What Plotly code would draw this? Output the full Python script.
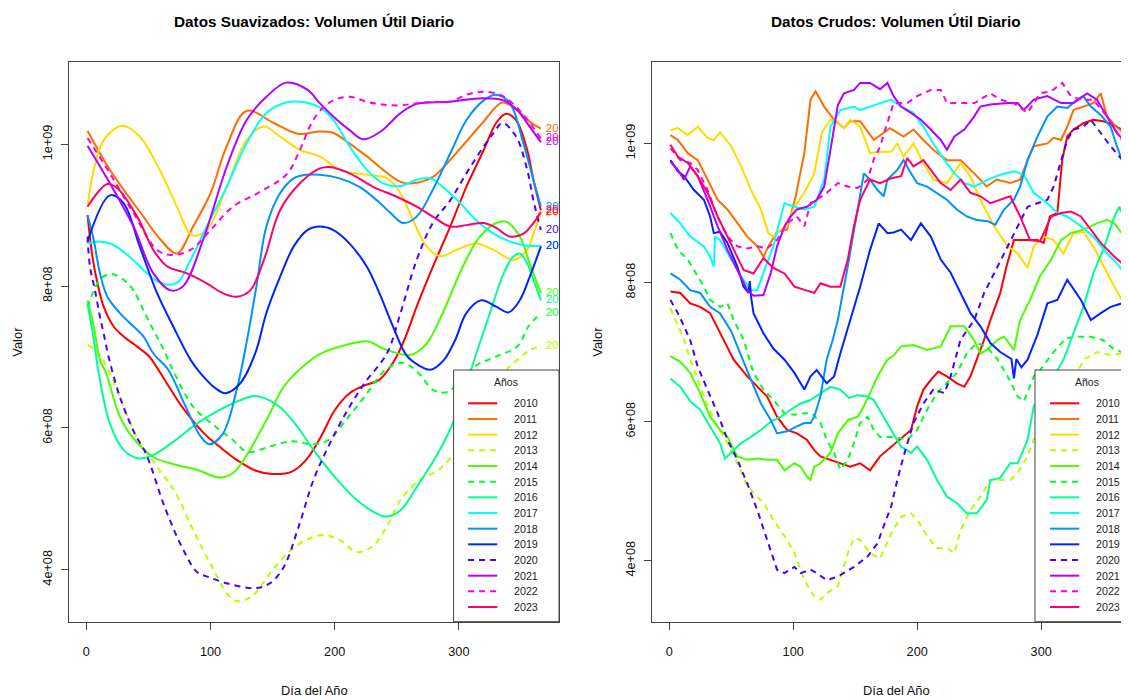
import plotly.graph_objects as go

# The page body has an 8px margin, so the figure is drawn 8px lower/right;
# the canvas is sized so that it ends exactly at the window edge.
OFF = 8
W, H = 1129 - OFF, 700 - OFF

YEARS = [2010, 2011, 2012, 2013, 2014, 2015, 2016, 2017, 2018, 2019, 2020, 2021, 2022, 2023]
COLORS = ["#FF0000", "#FF6D00", "#FFDB00", "#B6FF00", "#49FF00", "#00FF24", "#00FF92",
          "#00FFFF", "#0092FF", "#0024FF", "#4900FF", "#B600FF", "#FF00DB", "#FF006D"]
DASHED_YEARS = [2013, 2015, 2020, 2022]

X_TICKS = [0, 100, 200, 300]
Y_TICKS = [4, 6, 8, 10]          # in units of 1e8
Y_TICK_TEXT = ["4e+08", "6e+08", "8e+08", "1e+09"]

# ---------------- Smoothed data (day of year, value in 1e8 units) ----------------
S2010_D = [1, 5, 9, 14, 22, 30, 43, 51, 63, 77, 95, 107, 121, 136, 150, 165, 177, 189, 200, 212, 224, 236, 248, 256, 266, 279, 293, 306, 320, 330, 338, 346, 355, 360, 366]
S2010_V = [9.0, 8.41, 8.04, 7.71, 7.43, 7.29, 7.12, 7.0, 6.68, 6.30, 5.92, 5.74, 5.55, 5.40, 5.35, 5.38, 5.55, 5.88, 6.25, 6.49, 6.60, 6.68, 6.95, 7.24, 7.71, 8.27, 8.84, 9.40, 9.92, 10.30, 10.43, 10.34, 9.92, 9.50, 9.07]
S2011_D = [1, 19, 46, 60, 73, 86, 100, 113, 129, 151, 170, 188, 199, 212, 226, 239, 253, 263, 279, 293, 306, 319, 335, 347, 357, 366]
S2011_V = [10.19, 9.64, 8.98, 8.65, 8.46, 8.84, 9.31, 9.97, 10.47, 10.30, 10.15, 10.18, 10.16, 10.01, 9.83, 9.64, 9.47, 9.45, 9.54, 9.78, 10.04, 10.30, 10.59, 10.48, 10.32, 10.22]
S2012_D = [1, 6, 14, 29, 43, 59, 73, 85, 97, 113, 129, 143, 156, 172, 188, 204, 226, 242, 253, 263, 274, 285, 298, 314, 328, 344, 355, 360, 366]
S2012_V = [9.12, 9.64, 10.06, 10.26, 10.11, 9.64, 9.12, 8.72, 8.79, 9.40, 10.06, 10.25, 10.11, 9.92, 9.83, 9.64, 9.57, 9.52, 9.31, 8.93, 8.56, 8.42, 8.51, 8.60, 8.51, 8.37, 8.51, 8.74, 9.03]
S2013_D = [1, 10, 19, 30, 42, 57, 72, 86, 101, 113, 121, 133, 148, 162, 177, 192, 204, 218, 230, 242, 253, 268, 283, 294, 310, 325, 340, 350, 357, 366]
S2013_V = [7.17, 7.05, 6.77, 6.30, 5.83, 5.45, 5.08, 4.56, 4.05, 3.67, 3.56, 3.62, 3.95, 4.23, 4.42, 4.49, 4.42, 4.25, 4.32, 4.61, 4.98, 5.26, 5.40, 5.59, 5.95, 6.40, 6.85, 7.0, 7.10, 7.15]
S2014_D = [1, 6, 11, 16, 27, 39, 54, 72, 89, 107, 118, 130, 145, 159, 174, 189, 209, 227, 239, 261, 274, 287, 303, 317, 330, 338, 349, 357, 366]
S2014_V = [7.80, 7.43, 6.96, 6.77, 6.16, 5.83, 5.59, 5.48, 5.41, 5.30, 5.36, 5.64, 6.11, 6.58, 6.86, 7.05, 7.17, 7.22, 7.12, 7.03, 7.19, 7.62, 8.27, 8.70, 8.89, 8.91, 8.70, 8.32, 7.90]
S2015_D = [1, 5, 12, 20, 30, 38, 46, 54, 61, 71, 86, 104, 118, 130, 148, 165, 183, 195, 209, 224, 241, 255, 266, 280, 291, 312, 329, 347, 356, 366]
S2015_V = [7.70, 7.89, 8.11, 8.17, 8.09, 7.94, 7.66, 7.38, 7.15, 6.77, 6.30, 6.02, 5.83, 5.66, 5.74, 5.81, 5.77, 5.83, 6.11, 6.44, 6.82, 6.92, 6.80, 6.53, 6.51, 6.86, 7.0, 7.15, 7.43, 7.62]
S2016_D = [1, 6, 10, 19, 30, 42, 54, 72, 89, 107, 124, 136, 154, 168, 183, 200, 218, 233, 242, 253, 268, 283, 294, 304, 314, 325, 336, 344, 349, 355, 360, 366]
S2016_V = [7.75, 7.25, 6.77, 6.06, 5.69, 5.57, 5.62, 5.83, 6.06, 6.25, 6.39, 6.45, 6.32, 6.06, 5.69, 5.31, 4.98, 4.80, 4.75, 4.84, 5.22, 5.64, 6.02, 6.50, 7.05, 7.62, 8.18, 8.42, 8.46, 8.32, 8.09, 7.80]
S2017_D = [1, 11, 22, 35, 49, 58, 66, 74, 84, 97, 113, 129, 145, 161, 177, 188, 199, 212, 226, 239, 253, 266, 277, 287, 301, 314, 328, 341, 355, 366]
S2017_V = [8.60, 8.63, 8.58, 8.41, 8.18, 8.06, 8.02, 8.06, 8.37, 8.84, 9.40, 10.01, 10.44, 10.59, 10.59, 10.52, 10.34, 9.97, 9.64, 9.45, 9.41, 9.50, 9.52, 9.40, 9.17, 8.93, 8.74, 8.63, 8.57, 8.57]
S2018_D = [1, 6, 11, 17, 27, 35, 46, 54, 66, 80, 92, 99, 110, 121, 129, 137, 145, 156, 167, 177, 188, 204, 220, 234, 245, 255, 266, 279, 293, 306, 320, 330, 341, 352, 360, 366]
S2018_V = [9.0, 8.65, 8.18, 7.85, 7.62, 7.48, 7.29, 7.05, 6.82, 6.30, 5.88, 5.77, 5.92, 6.53, 7.20, 8.0, 8.84, 9.31, 9.52, 9.57, 9.57, 9.52, 9.40, 9.21, 9.03, 8.89, 8.98, 9.36, 9.87, 10.34, 10.62, 10.70, 10.58, 10.01, 9.50, 9.12]
S2019_D = [1, 19, 30, 43, 57, 70, 84, 92, 104, 112, 124, 136, 145, 156, 167, 178, 188, 199, 212, 226, 236, 247, 258, 268, 277, 288, 297, 306, 318, 330, 340, 349, 357, 366]
S2019_V = [8.63, 9.28, 9.17, 8.56, 7.90, 7.43, 6.96, 6.77, 6.56, 6.49, 6.63, 7.05, 7.62, 8.13, 8.56, 8.79, 8.84, 8.79, 8.60, 8.27, 7.90, 7.43, 7.02, 6.88, 6.82, 6.96, 7.24, 7.62, 7.80, 7.71, 7.63, 7.80, 8.13, 8.56]
S2020_D = [1, 3, 7, 11, 14, 18, 27, 39, 48, 63, 77, 89, 98, 113, 136, 148, 159, 171, 183, 195, 209, 224, 242, 253, 266, 279, 293, 306, 320, 328, 335, 346, 355, 360, 366]
S2020_V = [8.70, 8.27, 7.94, 7.57, 7.33, 7.0, 6.44, 5.92, 5.64, 4.89, 4.32, 3.97, 3.90, 3.81, 3.74, 3.81, 4.04, 4.61, 5.27, 5.74, 6.21, 6.63, 7.05, 7.62, 8.37, 8.89, 9.21, 9.59, 9.97, 10.16, 10.30, 10.11, 9.64, 9.21, 8.79]
S2021_D = [1, 19, 38, 54, 68, 78, 94, 113, 129, 145, 161, 178, 188, 199, 212, 223, 237, 253, 266, 293, 319, 336, 347, 357, 366]
S2021_V = [9.98, 9.45, 8.84, 8.18, 7.94, 8.0, 8.65, 9.68, 10.34, 10.67, 10.87, 10.77, 10.58, 10.39, 10.20, 10.07, 10.18, 10.44, 10.57, 10.60, 10.65, 10.62, 10.48, 10.25, 10.03]
S2022_D = [1, 19, 38, 57, 68, 84, 100, 118, 140, 161, 172, 180, 188, 199, 212, 226, 239, 253, 266, 279, 293, 306, 319, 333, 343, 354, 366]
S2022_V = [10.09, 9.59, 9.03, 8.51, 8.44, 8.51, 8.79, 9.12, 9.33, 9.57, 9.92, 10.25, 10.47, 10.62, 10.67, 10.60, 10.56, 10.55, 10.58, 10.60, 10.60, 10.70, 10.74, 10.70, 10.58, 10.37, 10.08]
S2023_D = [1, 17, 25, 41, 54, 65, 81, 97, 110, 121, 132, 143, 156, 172, 188, 196, 212, 231, 250, 266, 279, 293, 306, 320, 330, 341, 352, 360, 366]
S2023_V = [9.12, 9.44, 9.38, 8.98, 8.51, 8.28, 8.18, 8.04, 7.90, 7.85, 7.94, 8.37, 9.07, 9.45, 9.66, 9.68, 9.59, 9.40, 9.26, 9.12, 8.98, 8.84, 8.86, 8.89, 8.82, 8.70, 8.74, 8.89, 9.05]

# ---------------- Raw data (day of year, value in 1e8 units) ----------------
R2010_D = [1, 9, 17, 25, 33, 41, 45, 52, 63, 71, 79, 87, 95, 103, 111, 117, 122, 130, 138, 146, 154, 162, 170, 178, 186, 195, 200, 205, 211, 217, 224, 232, 238, 243, 248, 254, 259, 267, 272, 278, 289, 297, 302, 307, 313, 317, 321, 326, 334, 342, 350, 358, 365]
R2010_V = [7.87, 7.85, 7.70, 7.65, 7.56, 7.27, 7.12, 6.89, 6.65, 6.50, 6.36, 6.07, 5.88, 5.83, 5.74, 5.59, 5.50, 5.45, 5.40, 5.35, 5.40, 5.30, 5.50, 5.62, 5.74, 5.88, 6.22, 6.46, 6.60, 6.72, 6.65, 6.55, 6.50, 6.65, 6.89, 7.18, 7.46, 7.85, 8.23, 8.61, 8.61, 8.61, 8.57, 8.95, 9.00, 9.77, 10.10, 10.20, 10.29, 10.34, 10.32, 10.27, 10.20]
R2011_D = [1, 7, 15, 23, 31, 39, 47, 55, 63, 71, 76, 80, 87, 95, 102, 109, 114, 118, 125, 133, 141, 146, 154, 165, 170, 178, 189, 197, 205, 213, 224, 235, 246, 256, 264, 275, 283, 289, 294, 305, 310, 316, 321, 326, 334, 342, 348, 353, 359, 365]
R2011_V = [10.12, 10.05, 9.86, 9.76, 9.48, 9.19, 9.05, 8.85, 8.66, 8.52, 8.37, 8.52, 8.73, 8.76, 9.24, 9.86, 10.63, 10.75, 10.53, 10.34, 10.22, 10.32, 10.32, 10.05, 10.12, 10.22, 10.10, 10.20, 10.05, 9.91, 9.76, 9.76, 9.57, 9.38, 9.48, 9.43, 9.48, 9.76, 9.96, 10.0, 10.08, 10.05, 10.24, 10.48, 10.53, 10.58, 10.72, 10.39, 10.27, 10.17]
R2012_D = [1, 7, 15, 23, 31, 36, 41, 50, 58, 66, 74, 80, 84, 90, 95, 101, 109, 117, 123, 130, 136, 141, 146, 154, 162, 170, 179, 184, 189, 197, 205, 213, 224, 235, 243, 251, 262, 273, 281, 289, 294, 302, 310, 318, 326, 334, 342, 353, 359, 365]
R2012_V = [10.19, 10.22, 10.12, 10.24, 10.08, 10.05, 10.16, 9.96, 9.67, 9.33, 9.05, 8.71, 8.66, 8.76, 8.81, 9.09, 9.29, 9.57, 10.15, 10.34, 10.29, 10.22, 10.34, 10.24, 9.86, 9.88, 9.88, 10.0, 9.81, 10.0, 9.72, 9.48, 9.43, 9.72, 9.52, 9.19, 8.81, 8.52, 8.42, 8.21, 8.52, 8.66, 8.61, 8.42, 8.71, 8.73, 8.52, 8.13, 7.94, 7.75]
R2013_D = [1, 7, 12, 17, 23, 31, 39, 47, 55, 63, 71, 76, 84, 93, 101, 109, 117, 122, 127, 136, 144, 149, 154, 162, 170, 179, 187, 195, 200, 208, 216, 224, 230, 235, 243, 251, 259, 267, 275, 281, 289, 294, 310, 325, 335, 345, 355, 366]
R2013_V = [7.63, 7.37, 7.18, 6.89, 6.60, 6.22, 5.93, 5.69, 5.40, 5.07, 4.92, 4.83, 4.59, 4.35, 4.11, 3.72, 3.48, 3.44, 3.53, 3.63, 4.11, 4.32, 4.30, 4.11, 4.03, 4.39, 4.63, 4.68, 4.59, 4.35, 4.18, 4.18, 4.11, 4.44, 4.73, 4.92, 5.16, 5.16, 5.16, 5.26, 5.50, 5.74, 6.20, 6.60, 6.90, 7.00, 6.96, 6.98]
R2014_D = [1, 9, 17, 25, 33, 41, 47, 55, 63, 71, 79, 87, 93, 101, 106, 111, 114, 117, 122, 130, 136, 144, 152, 157, 162, 168, 176, 181, 187, 197, 208, 219, 227, 238, 246, 251, 256, 265, 270, 278, 283, 291, 299, 308, 316, 324, 334, 345, 353, 359, 365]
R2014_V = [6.94, 6.86, 6.70, 6.41, 6.07, 5.88, 5.78, 5.50, 5.45, 5.47, 5.45, 5.45, 5.30, 5.40, 5.35, 5.21, 5.16, 5.35, 5.40, 5.55, 5.83, 6.02, 6.07, 6.22, 6.41, 6.65, 6.89, 6.95, 7.08, 7.10, 7.03, 7.08, 7.37, 7.37, 7.17, 6.98, 7.03, 7.18, 7.22, 7.03, 7.46, 7.75, 8.09, 8.33, 8.61, 8.71, 8.76, 8.85, 8.90, 8.85, 8.71]
R2015_D = [1, 7, 15, 20, 28, 33, 41, 47, 52, 60, 68, 76, 84, 93, 101, 109, 115, 122, 127, 133, 138, 144, 149, 154, 160, 165, 170, 181, 192, 200, 208, 216, 224, 232, 240, 248, 256, 265, 273, 281, 286, 294, 299, 310, 320, 330, 340, 350, 358, 365]
R2015_V = [8.71, 8.47, 8.33, 8.18, 7.94, 7.75, 7.65, 7.70, 7.46, 7.18, 6.70, 6.46, 6.31, 6.12, 6.10, 6.12, 6.12, 5.98, 5.74, 5.55, 5.31, 5.45, 5.69, 5.98, 6.07, 5.88, 5.78, 5.78, 5.74, 5.88, 6.17, 6.41, 6.55, 6.70, 6.98, 7.13, 7.08, 6.89, 6.65, 6.36, 6.29, 6.65, 6.74, 7.0, 7.20, 7.22, 7.22, 7.17, 7.05, 7.0]
R2016_D = [1, 9, 17, 25, 33, 41, 45, 50, 58, 66, 74, 82, 90, 98, 106, 114, 122, 130, 138, 145, 152, 160, 165, 170, 179, 187, 195, 200, 208, 216, 224, 232, 240, 248, 256, 259, 267, 275, 281, 289, 294, 305, 318, 326, 334, 342, 351, 359, 363, 365]
R2016_V = [6.62, 6.50, 6.29, 6.17, 5.93, 5.69, 5.47, 5.55, 5.69, 5.78, 5.88, 6.0, 6.07, 6.17, 6.26, 6.31, 6.41, 6.50, 6.46, 6.34, 6.38, 6.36, 6.31, 6.15, 5.88, 5.64, 5.55, 5.64, 5.45, 5.16, 4.92, 4.83, 4.68, 4.68, 4.87, 5.16, 5.19, 5.40, 5.40, 5.74, 6.22, 6.50, 6.89, 7.27, 7.65, 8.13, 8.52, 8.95, 9.09, 9.0]
R2017_D = [1, 9, 17, 23, 28, 33, 36, 37, 41, 50, 58, 66, 71, 76, 84, 90, 93, 101, 109, 117, 125, 130, 138, 149, 154, 162, 170, 179, 187, 197, 205, 213, 222, 230, 238, 246, 257, 267, 278, 286, 294, 305, 313, 321, 332, 342, 353, 361, 365]
R2017_V = [9.0, 8.85, 8.66, 8.59, 8.52, 8.37, 8.23, 8.66, 8.61, 8.33, 8.09, 7.89, 7.89, 8.14, 8.52, 8.95, 9.14, 9.09, 9.05, 9.09, 9.48, 10.24, 10.48, 10.53, 10.48, 10.53, 10.58, 10.63, 10.53, 10.44, 10.24, 10.0, 9.76, 9.57, 9.43, 9.38, 9.48, 9.55, 9.60, 9.55, 9.29, 9.14, 9.0, 8.95, 8.81, 8.66, 8.42, 8.28, 8.18]
R2018_D = [1, 9, 17, 25, 33, 41, 50, 58, 66, 74, 82, 87, 95, 103, 109, 114, 117, 122, 127, 132, 136, 144, 152, 157, 162, 168, 173, 176, 184, 189, 195, 200, 208, 216, 224, 232, 240, 248, 257, 263, 270, 278, 283, 289, 297, 305, 313, 321, 329, 334, 340, 348, 356, 361, 365]
R2018_V = [8.13, 8.04, 7.89, 7.85, 7.65, 7.56, 7.30, 6.94, 6.60, 6.26, 6.02, 5.83, 5.86, 5.93, 5.98, 5.98, 6.07, 6.36, 6.89, 7.18, 7.46, 8.23, 9.05, 9.57, 9.48, 9.33, 9.24, 9.48, 9.62, 9.76, 9.57, 9.43, 9.38, 9.29, 9.19, 9.05, 8.95, 8.90, 8.88, 8.83, 9.05, 9.19, 9.38, 9.76, 10.10, 10.39, 10.53, 10.51, 10.63, 10.68, 10.53, 10.41, 10.24, 9.96, 9.77]
R2019_D = [1, 7, 12, 20, 28, 33, 36, 41, 47, 55, 60, 64, 65, 66, 68, 76, 84, 93, 101, 109, 114, 119, 127, 133, 138, 146, 154, 162, 169, 176, 181, 187, 195, 203, 211, 219, 227, 235, 243, 251, 259, 267, 276, 278, 280, 284, 289, 297, 305, 313, 321, 332, 340, 348, 356, 365]
R2019_V = [9.76, 9.60, 9.53, 9.33, 9.19, 8.95, 8.71, 8.73, 8.57, 8.23, 7.94, 7.85, 8.02, 7.80, 7.56, 7.27, 7.05, 6.89, 6.70, 6.46, 6.65, 6.74, 6.55, 6.65, 6.98, 7.46, 7.94, 8.47, 8.85, 8.71, 8.72, 8.76, 8.61, 8.85, 8.66, 8.33, 8.14, 7.85, 7.56, 7.37, 7.13, 7.0, 6.90, 6.62, 6.90, 6.78, 6.89, 7.25, 7.70, 7.75, 8.04, 7.75, 7.46, 7.56, 7.65, 7.70]
R2020_D = [1, 7, 12, 17, 23, 31, 39, 47, 55, 63, 71, 79, 87, 93, 101, 106, 114, 119, 127, 136, 141, 149, 160, 168, 172, 179, 184, 189, 197, 205, 213, 222, 227, 235, 246, 254, 262, 273, 281, 289, 297, 305, 310, 316, 321, 326, 334, 340, 348, 356, 365]
R2020_V = [7.75, 7.56, 7.37, 7.17, 6.79, 6.46, 6.12, 5.74, 5.45, 5.11, 4.73, 4.30, 3.87, 3.82, 3.91, 3.82, 3.87, 3.82, 3.72, 3.77, 3.82, 3.91, 4.06, 4.25, 4.45, 4.78, 5.16, 5.50, 5.98, 6.26, 6.46, 6.41, 6.65, 7.18, 7.46, 7.85, 8.13, 8.52, 8.81, 9.09, 9.14, 9.19, 9.38, 9.76, 10.05, 10.20, 10.24, 10.34, 10.15, 9.96, 9.77]
R2021_D = [1, 7, 12, 17, 23, 31, 39, 47, 55, 63, 68, 76, 82, 87, 93, 98, 103, 111, 119, 125, 130, 136, 141, 149, 154, 162, 170, 176, 181, 187, 195, 203, 211, 219, 224, 230, 238, 246, 251, 259, 273, 281, 286, 294, 305, 316, 326, 337, 345, 353, 361, 365]
R2021_V = [9.74, 9.62, 9.48, 9.67, 9.53, 9.19, 8.81, 8.47, 8.18, 7.89, 7.81, 7.82, 8.14, 8.52, 8.81, 8.95, 9.05, 9.09, 9.19, 9.38, 9.90, 10.55, 10.72, 10.77, 10.87, 10.87, 10.78, 10.87, 10.68, 10.53, 10.44, 10.34, 10.20, 10.05, 9.91, 10.10, 10.20, 10.39, 10.53, 10.56, 10.58, 10.58, 10.48, 10.63, 10.68, 10.58, 10.58, 10.72, 10.63, 10.39, 10.15, 10.08]
R2022_D = [1, 9, 17, 23, 31, 39, 47, 55, 63, 71, 79, 87, 95, 103, 109, 114, 119, 127, 136, 144, 152, 160, 165, 170, 176, 181, 192, 200, 211, 219, 224, 235, 246, 259, 267, 278, 289, 299, 308, 317, 324, 332, 342, 353, 361, 365]
R2022_V = [9.93, 9.76, 9.72, 9.62, 9.33, 8.95, 8.66, 8.52, 8.49, 8.52, 8.49, 8.61, 8.85, 8.95, 8.81, 9.14, 9.19, 9.29, 9.43, 9.38, 9.36, 9.48, 9.77, 9.95, 10.30, 10.58, 10.58, 10.68, 10.77, 10.77, 10.58, 10.58, 10.58, 10.72, 10.63, 10.58, 10.44, 10.72, 10.75, 10.87, 10.68, 10.63, 10.63, 10.39, 10.17, 10.05]
R2023_D = [1, 7, 15, 23, 31, 39, 47, 52, 60, 68, 76, 84, 93, 101, 109, 117, 122, 130, 138, 144, 149, 154, 162, 170, 179, 187, 192, 197, 205, 211, 219, 227, 235, 243, 251, 259, 267, 275, 283, 291, 299, 308, 316, 324, 332, 340, 348, 359, 365]
R2023_V = [9.98, 9.81, 9.72, 9.53, 9.29, 8.95, 8.66, 8.47, 8.18, 8.13, 8.35, 8.21, 8.13, 7.94, 7.89, 7.85, 7.99, 7.94, 7.94, 8.33, 8.81, 9.19, 9.48, 9.43, 9.50, 9.53, 9.79, 9.67, 9.76, 9.62, 9.43, 9.33, 9.48, 9.29, 9.24, 9.14, 9.19, 9.24, 8.95, 8.61, 8.59, 8.95, 9.00, 9.02, 8.95, 8.76, 8.57, 8.37, 8.28]

SMOOTH_D = [S2010_D, S2011_D, S2012_D, S2013_D, S2014_D, S2015_D, S2016_D, S2017_D, S2018_D, S2019_D, S2020_D, S2021_D, S2022_D, S2023_D]
SMOOTH_V = [S2010_V, S2011_V, S2012_V, S2013_V, S2014_V, S2015_V, S2016_V, S2017_V, S2018_V, S2019_V, S2020_V, S2021_V, S2022_V, S2023_V]
RAW_D = [R2010_D, R2011_D, R2012_D, R2013_D, R2014_D, R2015_D, R2016_D, R2017_D, R2018_D, R2019_D, R2020_D, R2021_D, R2022_D, R2023_D]
RAW_V = [R2010_V, R2011_V, R2012_V, R2013_V, R2014_V, R2015_V, R2016_V, R2017_V, R2018_V, R2019_V, R2020_V, R2021_V, R2022_V, R2023_V]

# ---------------- styling / layout helpers ----------------
FONT = "Liberation Sans, Arial, Helvetica, sans-serif"
DASH = "6px,5px"
AXCOL = "#444444"


def px(x):
    """window pixel x -> paper fraction"""
    return (x - OFF) / W


def py(y):
    """window pixel y -> paper fraction"""
    return 1 - (y - OFF) / H


def dash_for(year):
    return DASH if year in DASHED_YEARS else "solid"


fig = go.Figure()

# Left: smoothed curves
for i, yr in enumerate(YEARS):
    fig.add_trace(go.Scatter(
        x=SMOOTH_D[i], y=SMOOTH_V[i], mode="lines", xaxis="x", yaxis="y",
        line=dict(color=COLORS[i], width=2, dash=dash_for(yr), shape="spline", smoothing=1.0),
        showlegend=False, hoverinfo="skip"))

# Left: end labels (clipped by the plot frame)
for i, yr in enumerate(YEARS):
    fig.add_trace(go.Scatter(
        x=[370], y=[SMOOTH_V[i][-1]], mode="text", text=[str(yr)], textposition="middle right",
        textfont=dict(family=FONT, size=11.5, color=COLORS[i]), cliponaxis=True,
        xaxis="x", yaxis="y", showlegend=False, hoverinfo="skip"))

# Right: raw series
for i, yr in enumerate(YEARS):
    fig.add_trace(go.Scatter(
        x=RAW_D[i], y=RAW_V[i], mode="lines", xaxis="x2", yaxis="y2",
        line=dict(color=COLORS[i], width=2, dash=dash_for(yr)),
        showlegend=False, hoverinfo="skip"))

# Plot geometry (window pixels)
L_X0, L_X1 = 69.4, 559.0
R_X0 = 652.3
Y_TOP, Y_BOT = 61.7, 621.7

axis_common = dict(showgrid=False, zeroline=False, showline=True, linecolor=AXCOL, linewidth=1,
                   ticks="outside", ticklen=7, tickwidth=1, tickcolor=AXCOL,
                   tickfont=dict(family=FONT, size=12.7, color="#111111"), automargin=False)

fig.update_layout(
    width=W, height=H, margin=dict(l=0, r=0, t=0, b=0),
    paper_bgcolor="white", plot_bgcolor="white", showlegend=False,
    xaxis=dict(domain=[px(L_X0), px(L_X1)], range=[-13.6, 380.6], tickvals=X_TICKS,
               mirror=True, anchor="y", ticklabelstandoff=11, **axis_common),
    yaxis=dict(domain=[py(Y_BOT), py(Y_TOP)], range=[3.267, 11.165], tickvals=Y_TICKS,
               ticktext=Y_TICK_TEXT, tickangle=-90, mirror=True, anchor="x",
               ticklabelstandoff=4, **axis_common),
    xaxis2=dict(domain=[px(R_X0), 1.0], range=[-13.6, 370.8], tickvals=X_TICKS,
                mirror=True, anchor="y2", ticklabelstandoff=11, **axis_common),
    yaxis2=dict(domain=[py(Y_BOT), py(Y_TOP)], range=[3.122, 11.1755], tickvals=Y_TICKS,
                ticktext=Y_TICK_TEXT, tickangle=-90, mirror=False, anchor="x2",
                ticklabelstandoff=4, **axis_common),
)

annotations = []
shapes = []

# Titles and axis titles
for cx, title in [(314, "Datos Suavizados: Volumen Útil Diario"), (896, "Datos Crudos: Volumen Útil Diario")]:
    annotations.append(dict(x=px(cx), y=py(22), xref="paper", yref="paper", text="<b>" + title + "</b>",
                            showarrow=False, xanchor="center", yanchor="middle",
                            font=dict(family=FONT, size=15.3, color="#000000")))
    annotations.append(dict(x=px(cx), y=py(690), xref="paper", yref="paper", text="Día del Año",
                            showarrow=False, xanchor="center", yanchor="middle",
                            font=dict(family=FONT, size=12.9, color="#111111")))
for vx in [18, 598]:
    annotations.append(dict(x=px(vx), y=py((Y_TOP + Y_BOT) / 2), xref="paper", yref="paper", text="Valor",
                            showarrow=False, xanchor="center", yanchor="middle", textangle=-90,
                            font=dict(family=FONT, size=12.9, color="#111111")))

# Manual legends (R style)
LEG_TOP = 370.0
ROW0, ROW_STEP = 403.3, 15.67
for bx0, bx1, lx0, lx1, tx, title_x in [(453.6, 559.0, 468.1, 497.3, 511.8, 506.0),
                                         (1035.0, 1135.0, 1050.0, 1079.3, 1094.3, 1087.0)]:
    shapes.append(dict(type="rect", xref="paper", yref="paper", x0=px(bx0), x1=px(bx1),
                       y0=py(Y_BOT), y1=py(LEG_TOP), line=dict(color=AXCOL, width=1),
                       fillcolor="white", layer="above"))
    annotations.append(dict(x=px(title_x), y=py(381.7), xref="paper", yref="paper", text="Años",
                            showarrow=False, xanchor="center", yanchor="middle",
                            font=dict(family=FONT, size=10.5, color="#222222")))
    for i, yr in enumerate(YEARS):
        yy = ROW0 + i * ROW_STEP
        shapes.append(dict(type="line", xref="paper", yref="paper", x0=px(lx0), x1=px(lx1),
                           y0=py(yy), y1=py(yy), layer="above",
                           line=dict(color=COLORS[i], width=2, dash=dash_for(yr))))
        annotations.append(dict(x=px(tx), y=py(yy), xref="paper", yref="paper", text=str(yr),
                                showarrow=False, xanchor="left", yanchor="middle",
                                font=dict(family=FONT, size=10.7, color="#222222")))

fig.update_layout(annotations=annotations, shapes=shapes)

fig.write_html("out.html")
